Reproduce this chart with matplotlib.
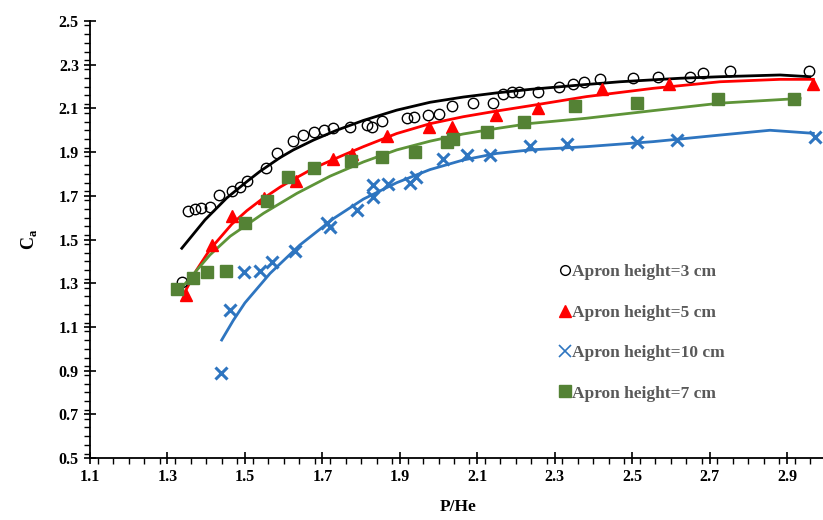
import matplotlib
matplotlib.use("Agg")
import matplotlib.pyplot as plt
from matplotlib.ticker import MultipleLocator, FormatStrFormatter
from matplotlib.lines import Line2D

# Apron height = 3 cm
x_3cm = [1.337, 1.354, 1.371, 1.387, 1.410, 1.434, 1.466, 1.487, 1.506, 1.555,
         1.582, 1.624, 1.651, 1.679, 1.703, 1.728, 1.771, 1.816, 1.827, 1.853,
         1.919, 1.937, 1.974, 2.002, 2.034, 2.090, 2.140, 2.167, 2.189, 2.209,
         2.258, 2.312, 2.348, 2.377, 2.417, 2.503, 2.568, 2.650, 2.682, 2.753,
         2.958]
y_3cm = [1.307, 1.632, 1.638, 1.643, 1.650, 1.702, 1.723, 1.742, 1.768, 1.829,
         1.894, 1.949, 1.978, 1.990, 2.001, 2.010, 2.016, 2.024, 2.016, 2.044,
         2.055, 2.061, 2.070, 2.073, 2.112, 2.123, 2.126, 2.165, 2.174, 2.174,
         2.174, 2.197, 2.210, 2.222, 2.233, 2.241, 2.245, 2.245, 2.261, 2.273,
         2.273]

# Apron height = 5 cm
x_5cm = [1.348, 1.414, 1.466, 1.548, 1.632, 1.728, 1.776, 1.868, 1.976, 2.034,
         2.149, 2.258, 2.421, 2.596, 2.968]
y_5cm = [1.245, 1.476, 1.606, 1.692, 1.768, 1.868, 1.890, 1.975, 2.013, 2.017,
         2.072, 2.103, 2.190, 2.210, 2.210]

# Apron height = 10 cm
x_10cm = [1.437, 1.462, 1.498, 1.539, 1.569, 1.629, 1.711, 1.720, 1.789, 1.830,
          1.832, 1.870, 1.926, 1.942, 2.012, 2.073, 2.133, 2.236, 2.331, 2.512,
          2.615, 2.972]
y_10cm = [0.890, 1.177, 1.353, 1.357, 1.398, 1.449, 1.574, 1.559, 1.637, 1.696,
          1.749, 1.755, 1.757, 1.787, 1.868, 1.887, 1.887, 1.930, 1.938, 1.948,
          1.955, 1.970]

# Apron height = 7 cm
x_7cm = [1.324, 1.367, 1.401, 1.451, 1.500, 1.556, 1.610, 1.678, 1.773, 1.853,
         1.939, 2.021, 2.038, 2.124, 2.220, 2.353, 2.513, 2.723, 2.918]
y_7cm = [1.272, 1.322, 1.353, 1.356, 1.574, 1.678, 1.787, 1.826, 1.859, 1.879,
         1.899, 1.945, 1.960, 1.991, 2.040, 2.112, 2.123, 2.143, 2.143]

# Trend curves for each apron height
trend_x_3cm = [1.337, 1.397, 1.453, 1.505, 1.539, 1.591, 1.625, 1.677, 1.737,
               1.806, 1.892, 1.978, 2.064, 2.150, 2.236, 2.365, 2.469, 2.624,
               2.727, 2.882, 2.959]
trend_y_3cm = [1.460, 1.590, 1.690, 1.765, 1.812, 1.875, 1.910, 1.955, 2.000,
               2.045, 2.092, 2.128, 2.152, 2.171, 2.187, 2.207, 2.222, 2.238,
               2.245, 2.253, 2.245]

trend_x_5cm = [1.345, 1.375, 1.410, 1.466, 1.505, 1.539, 1.591, 1.625, 1.677,
               1.746, 1.806, 1.892, 1.978, 2.064, 2.150, 2.236, 2.382, 2.555,
               2.727, 2.882, 2.968]
trend_y_5cm = [1.260, 1.360, 1.455, 1.570, 1.632, 1.678, 1.740, 1.775, 1.826,
               1.880, 1.925, 1.985, 2.030, 2.062, 2.088, 2.112, 2.154, 2.192,
               2.222, 2.233, 2.233]

trend_x_7cm = [1.332, 1.410, 1.462, 1.548, 1.634, 1.720, 1.806, 1.892, 1.978,
               2.064, 2.150, 2.236, 2.382, 2.555, 2.727, 2.899, 2.934]
trend_y_7cm = [1.270, 1.430, 1.515, 1.620, 1.711, 1.790, 1.855, 1.910, 1.950,
               1.983, 2.008, 2.031, 2.055, 2.090, 2.124, 2.142, 2.146]

trend_x_10cm = [1.440, 1.470, 1.500, 1.565, 1.642, 1.728, 1.806, 1.892, 1.978,
                2.064, 2.150, 2.236, 2.382, 2.555, 2.727, 2.856, 2.968]
trend_y_10cm = [1.040, 1.130, 1.210, 1.345, 1.475, 1.595, 1.685, 1.760, 1.820,
                1.864, 1.894, 1.910, 1.925, 1.948, 1.978, 2.000, 1.986]

x_ticks = [1.1, 1.3, 1.5, 1.7, 1.9, 2.1, 2.3, 2.5, 2.7, 2.9]
y_ticks = [0.5, 0.7, 0.9, 1.1, 1.3, 1.5, 1.7, 1.9, 2.1, 2.3, 2.5]

BLACK = "#000000"
RED = "#FF0000"
BLUE = "#2E75C0"
GREEN = "#548235"
GREEN_LINE = "#5E9438"

plt.rcParams["font.family"] = ["Liberation Serif", "DejaVu Serif"]
plt.rcParams["mathtext.fontset"] = "custom"
plt.rcParams["mathtext.rm"] = "Liberation Serif"
plt.rcParams["mathtext.bf"] = "Liberation Serif:bold"

fig = plt.figure(figsize=(8.23, 5.20), dpi=100)
ax = fig.add_axes([0.1094, 0.1192, 0.8939, 0.8404])

# trend lines
line_style = dict(lw=2.0, zorder=2, solid_joinstyle="round")
ax.plot(trend_x_3cm, trend_y_3cm, color=BLACK, **line_style)
ax.plot(trend_x_5cm, trend_y_5cm, color=RED, **line_style)
ax.plot(trend_x_7cm, trend_y_7cm, color=GREEN_LINE, **line_style)
ax.plot(trend_x_10cm, trend_y_10cm, color=BLUE, **line_style)

# measured points
ax.plot(x_3cm, y_3cm, ls="none", marker="o", ms=7.5, mfc="none",
        mec=BLACK, mew=1.0, zorder=3)
ax.plot(x_5cm, y_5cm, ls="none", marker="^", ms=8, color=RED, mec=RED, zorder=3)
ax.plot(x_10cm, y_10cm, ls="none", marker="x", ms=8, mew=2.2, color=BLUE, zorder=3)
ax.plot(x_7cm, y_7cm, ls="none", marker="s", ms=8.5, color=GREEN, mec=GREEN, zorder=3)

ax.set_xlim(1.1, 3.0)
ax.set_ylim(0.5, 2.5)
ax.set_xticks(x_ticks)
ax.set_yticks(y_ticks)
ax.xaxis.set_major_formatter(FormatStrFormatter("%.1f"))
ax.yaxis.set_major_formatter(FormatStrFormatter("%.1f"))
ax.xaxis.set_minor_locator(MultipleLocator(0.04))
ax.yaxis.set_minor_locator(MultipleLocator(0.04))

for side in ("top", "right"):
    ax.spines[side].set_visible(False)
for side in ("left", "bottom"):
    ax.spines[side].set_linewidth(1.3)

ax.tick_params(axis="both", which="major", direction="inout", length=8,
               width=1.2, labelsize=11.5, pad=4)
ax.tick_params(axis="both", which="minor", direction="out", length=4, width=1.0)
for lab in ax.get_xticklabels() + ax.get_yticklabels():
    lab.set_fontweight("bold")

ax.set_xlabel("P/He", fontsize=12.5, fontweight="bold", labelpad=10)
ax.set_ylabel(r"$\mathbf{C}_\mathbf{a}$", fontsize=13, labelpad=14)

handles = [
    Line2D([], [], ls="none", marker="o", ms=7, mfc="none", mec=BLACK, mew=1.0),
    Line2D([], [], ls="none", marker="^", ms=8, color=RED),
    Line2D([], [], ls="none", marker="x", ms=8, mew=1.2, color=BLUE),
    Line2D([], [], ls="none", marker="s", ms=8, color=GREEN),
]
labels = ["Apron height=3 cm", "Apron height=5 cm",
          "Apron height=10 cm", "Apron height=7 cm"]
leg = fig.legend(handles, labels, loc="center left",
                 bbox_to_anchor=(0.668, 0.36), frameon=False,
                 handlelength=0.7, handletextpad=0.1, labelspacing=1.4,
                 borderpad=0, prop={"size": 12.5, "weight": "bold"})
for t in leg.get_texts():
    t.set_color("#595959")

fig.savefig("out.png", dpi=100)
